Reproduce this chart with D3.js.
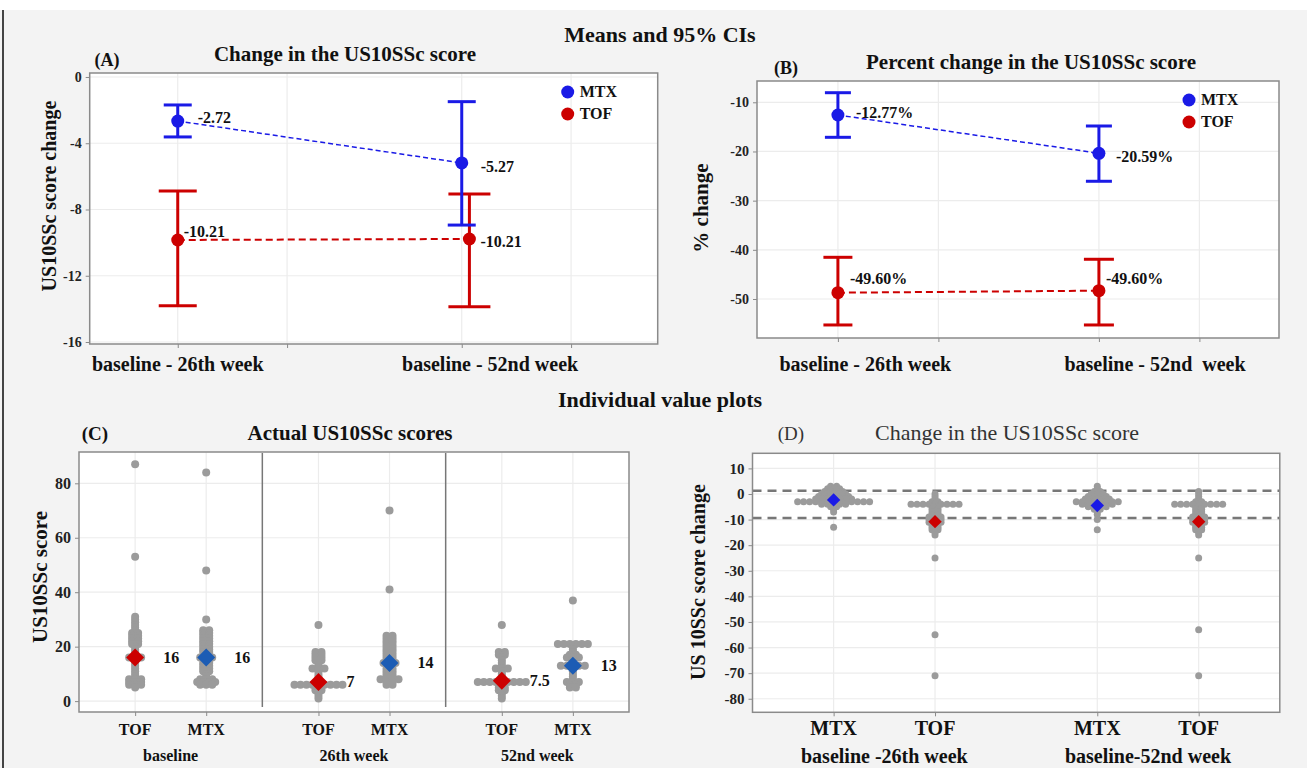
<!DOCTYPE html>
<html>
<head>
<meta charset="utf-8">
<script src="https://cdn.jsdelivr.net/npm/d3@7"></script>
<style>
  body { margin: 0; background: #fff; }
  text { font-family: "Liberation Serif", "Times New Roman", serif; fill: #111; white-space: pre; }
</style>
</head>
<body>
<svg id="fig" width="1307" height="768"></svg>
<script>
// ---------- data: (A) change in score, means + 95% CI ----------
const ciPeriods = ["baseline - 26th week", "baseline - 52nd week"];
const ciPeriodsB = ["baseline - 26th week", "baseline - 52nd  week"];
const ciPos = [1, 2];
const ciPosTofA = [1, 2.027];
const ciGrid = [1, 1.385, 2, 2.385];

const changeMtxMean = [-2.66, -5.19];
const changeMtxLow = [-3.62, -8.94];
const changeMtxHigh = [-1.69, -1.49];
const changeMtxText = ["-2.72", "-5.27"];
const changeTofMean = [-9.84, -9.78];
const changeTofLow = [-13.81, -13.87];
const changeTofHigh = [-6.88, -7.07];
const changeTofText = ["-10.21", "-10.21"];
const changeTicks = [0, -4, -8, -12, -16];

// ---------- data: (B) percent change ----------
const pctMtxMean = [-12.58, -20.37];
const pctMtxLow = [-17.12, -26.06];
const pctMtxHigh = [-8.05, -14.82];
const pctMtxText = ["-12.77%", "-20.59%"];
const pctTofMean = [-48.72, -48.31];
const pctTofLow = [-55.28, -55.28];
const pctTofHigh = [-41.52, -41.92];
const pctTofText = ["-49.60%", "-49.60%"];
const pctTicks = [-10, -20, -30, -40, -50];

// ---------- data: (C) actual scores ----------
const scoreGroups = ["baseline", "26th week", "52nd week"];
const scoreArms = ["TOF", "MTX"];
const tofBaseline = [87, 53, 31, 30, 29, 28, 27, 26, 25, 25, 24, 24, 23, 23, 22, 22, 21, 21, 20, 19, 18, 17,
  16, 16, 16, 15, 14, 13, 12, 11, 10, 9, 8, 8, 8, 7, 7, 7, 6, 6, 6, 5];
const mtxBaseline = [84, 48, 30, 26, 26, 25, 25, 24, 24, 23, 23, 22, 22, 21, 21, 20, 20, 19, 19, 18, 18, 17,
  16, 16, 16, 15, 14, 14, 13, 13, 12, 12, 11, 11, 10, 9, 8, 8, 8, 7, 7, 7, 7, 6, 6, 6];
const tofWeek26 = [28, 18, 18, 17, 17, 16, 16, 15, 15, 14, 13, 12, 12, 12, 11, 10, 9, 8, 7,
  6, 6, 6, 6, 6, 6, 6, 6, 6, 5, 5, 4, 4, 3, 2, 1];
const mtxWeek26 = [70, 41, 24, 24, 23, 23, 22, 22, 21, 21, 20, 20, 19, 19, 18, 18, 17, 17, 16, 16, 15, 15,
  14, 14, 14, 13, 12, 12, 11, 11, 10, 10, 9, 9, 8, 8, 8, 8, 7, 7, 6, 6];
const tofWeek52 = [28, 18, 18, 17, 17, 16, 15, 14, 13, 12, 12, 12, 11, 10, 9, 8,
  7, 7, 7, 7, 7, 7, 7, 7, 7, 6, 5, 5, 4, 4, 3, 2, 1];
const mtxWeek52 = [37, 21, 21, 21, 21, 21, 21, 20, 19, 18, 17, 17, 16, 16, 16, 15, 14,
  13, 13, 13, 13, 13, 12, 11, 10, 9, 8, 7, 7, 7, 6, 6, 5, 5];
const scoreMedians = [16, 16, 7, 14, 7.5, 13];
const scoreMedianText = ["16", "16", "7", "14", "7.5", "13"];
const scoreTicks = [0, 20, 40, 60, 80];

// ---------- data: (D) change, individual values ----------
const diffGroups = ["baseline -26th week", "baseline-52nd week"];
const diffArms = ["MTX", "TOF"];
const mtxDiff26 = [3, 3, 2, 2, 2, 1, 1, 1, 1, 0, 0, 0, 0, 0, -1, -1, -1, -1, -1, -1,
  -2, -2, -2, -2, -2, -2, -2, -3, -3, -3, -3, -3, -3, -3, -3, -3, -3, -3, -3, -3,
  -4, -4, -4, -4, -4, -5, -5, -6, -7, -13];
const tofDiff26 = [0, -1, -2, -3, -3, -4, -4, -4, -4, -4, -4, -4, -4, -4, -5, -5, -6, -6, -7, -7,
  -8, -8, -9, -9, -9, -10, -10, -10, -11, -11, -11, -12, -12, -13, -13, -14, -14, -15, -16, -25, -55, -71];
const mtxDiff52 = [3, 2, 1, 1, 0, 0, 0, -1, -1, -1, -1, -2, -2, -2, -2, -2,
  -3, -3, -3, -3, -3, -3, -3, -3, -4, -4, -4, -4, -4, -4, -5, -5, -5, -5, -6, -6, -7, -8, -10, -14];
const tofDiff52 = [1, 0, -1, -2, -3, -3, -4, -4, -4, -4, -4, -4, -4, -4, -4, -5, -5, -6, -6, -7, -7,
  -8, -8, -9, -9, -9, -10, -10, -10, -11, -11, -11, -12, -12, -13, -13, -14, -14, -15, -16, -25, -53, -71];
const diffMeans = [-2.3, -10.8, -4.5, -10.8];
const diffRefLines = [1.3, -9.4];
const diffTicks = [10, 0, -10, -20, -30, -40, -50, -60, -70, -80];

// ---------- styling ----------
const BLUE = "#1a1ae6", RED = "#cc0000", DOT = "#9b9b9b", GRID = "#ececec", FRAME = "#8a8a8a";
const SERIF = "'Liberation Serif', 'Times New Roman', serif";
const svg = d3.select("#fig");

svg.append("rect").attr("width", 1307).attr("height", 768).attr("fill", "#f3f3f3");
svg.append("rect").attr("width", 1307).attr("height", 10).attr("fill", "#fff");
svg.append("line").attr("x1", 3).attr("x2", 3).attr("y1", 10).attr("y2", 768)
  .attr("stroke", "#444").attr("stroke-width", 2);

function label(g, x, y, str, size, bold, anchor) {
  return g.append("text")
    .attr("x", x).attr("y", y)
    .attr("font-size", size)
    .attr("font-weight", bold ? "bold" : "normal")
    .attr("text-anchor", anchor || "middle")
    .style("font-family", SERIF)
    .text(str);
}

function yLabel(g, x, y, str, size) {
  g.append("text")
    .attr("transform", `translate(${x},${y}) rotate(-90)`)
    .attr("font-size", size).attr("font-weight", "bold")
    .attr("text-anchor", "middle")
    .style("font-family", SERIF)
    .text(str);
}

function styleAxis(a, size) {
  a.select(".domain").remove();
  a.selectAll("line").attr("stroke", FRAME);
  a.selectAll("text").attr("font-size", size).attr("font-weight", "bold")
    .style("font-family", SERIF).style("fill", "#222");
}

label(svg, 660, 42, "Means and 95% CIs", 22, true);
label(svg, 660, 407, "Individual value plots", 22, true);

// ---------- means + CI panels ----------
function ciPanel(p) {
  const g = svg.append("g");
  const x = d3.scaleLinear().domain([0.69, 2.69]).range([p.left, p.right]);
  const y = d3.scaleLinear().domain(p.yDomain).range([p.bottom, p.top]);

  g.append("rect").attr("x", p.left).attr("y", p.top)
    .attr("width", p.right - p.left).attr("height", p.bottom - p.top).attr("fill", "#fff");

  g.selectAll("line.hg").data(p.yTicks).join("line").attr("class", "hg")
    .attr("x1", p.left).attr("x2", p.right)
    .attr("y1", d => y(d)).attr("y2", d => y(d))
    .attr("stroke", GRID).attr("stroke-width", 1.2);
  g.selectAll("line.vg").data(ciGrid).join("line").attr("class", "vg")
    .attr("x1", d => x(d)).attr("x2", d => x(d))
    .attr("y1", p.top).attr("y2", p.bottom)
    .attr("stroke", GRID).attr("stroke-width", 1.2);

  const ya = g.append("g").attr("transform", `translate(${p.left},0)`)
    .call(d3.axisLeft(y).tickValues(p.yTicks).tickSize(4).tickPadding(4).tickFormat(d => String(d)));
  styleAxis(ya, 14);
  const xa = g.append("g").attr("transform", `translate(0,${p.bottom})`)
    .call(d3.axisBottom(x).tickValues(ciGrid).tickSize(4).tickFormat(""));
  styleAxis(xa, 14);

  p.periods.forEach((t, i) => label(g, x(p.labelAt[i]), 371, t, 20, true));

  p.series.forEach(s => {
    const pts = s.mean.map((m, i) => ({ x: x(s.pos[i]), m: y(m), lo: y(s.low[i]), hi: y(s.high[i]), t: s.text[i], i: i }));
    g.append("path")
      .attr("d", d3.line().x(d => d.x).y(d => d.m)(pts))
      .attr("fill", "none").attr("stroke", s.colour)
      .attr("stroke-width", s.dashWidth).attr("stroke-dasharray", s.dash);
    pts.forEach(d => {
      g.append("line").attr("x1", d.x).attr("x2", d.x).attr("y1", d.lo).attr("y2", d.hi)
        .attr("stroke", s.colour).attr("stroke-width", 3);
      [d.lo, d.hi].forEach(c => g.append("line")
        .attr("x1", d.x - s.cap[d.i]).attr("x2", d.x + s.cap[d.i]).attr("y1", c).attr("y2", c)
        .attr("stroke", s.colour).attr("stroke-width", 3));
      g.append("circle").attr("cx", d.x).attr("cy", d.m).attr("r", 6.5).attr("fill", s.colour);
      label(g, d.x + s.dx[d.i], d.m + s.dy[d.i] + 5, d.t, 16, true, "start");
    });
  });

  // legend
  p.series.slice().reverse().forEach((s, i) => {
    const ly = p.top + 19 + i * 22;
    g.append("circle").attr("cx", p.right - 90).attr("cy", ly).attr("r", 6.5).attr("fill", s.colour);
    label(g, p.right - 78, ly + 5, s.name, 16, true, "start");
  });

  g.append("rect").attr("x", p.left).attr("y", p.top)
    .attr("width", p.right - p.left).attr("height", p.bottom - p.top)
    .attr("fill", "none").attr("stroke", FRAME).attr("stroke-width", 1.5);

  label(svg, p.tagX, p.titleY + 5, p.tag, 18, true);
  label(svg, p.titleX, p.titleY, p.title, 21, true);
  yLabel(svg, p.yLabelX, p.yLabelY, p.yTitle, p.yTitleSize);
}

ciPanel({
  left: 89.7, right: 657.7, top: 73, bottom: 344,
  yDomain: [-16.12, 0.24], yTicks: changeTicks,
  periods: ciPeriods, labelAt: [1.0, 2.1],
  tag: "(A)", tagX: 107, title: "Change in the US10SSc score", titleX: 345, titleY: 61,
  yTitle: "US10SSc score change", yLabelX: 56, yLabelY: 196, yTitleSize: 20,
  series: [
    { name: "TOF", colour: RED, pos: ciPosTofA, mean: changeTofMean, low: changeTofLow, high: changeTofHigh,
      text: changeTofText, cap: [19, 21], dx: [6, 11], dy: [-8, 3], dash: "7,4", dashWidth: 2 },
    { name: "MTX", colour: BLUE, pos: ciPos, mean: changeMtxMean, low: changeMtxLow, high: changeMtxHigh,
      text: changeMtxText, cap: [14, 14], dx: [20, 19], dy: [-3, 4], dash: "5,3", dashWidth: 1.5 }
  ]
});

ciPanel({
  left: 757, right: 1279, top: 81, bottom: 338,
  yDomain: [-57.93, -5.67], yTicks: pctTicks,
  periods: ciPeriodsB, labelAt: [1.105, 2.215],
  tag: "(B)", tagX: 786, title: "Percent change in the US10SSc score", titleX: 1031, titleY: 69,
  yTitle: "% change", yLabelX: 708, yLabelY: 208, yTitleSize: 21,
  series: [
    { name: "TOF", colour: RED, pos: ciPos, mean: pctTofMean, low: pctTofLow, high: pctTofHigh,
      text: pctTofText, cap: [14.5, 15], dx: [12, 7], dy: [-14, -12], dash: "7,4", dashWidth: 2 },
    { name: "MTX", colour: BLUE, pos: ciPos, mean: pctMtxMean, low: pctMtxLow, high: pctMtxHigh,
      text: pctMtxText, cap: [13, 13], dx: [18, 17], dy: [-2, 4], dash: "5,3", dashWidth: 1.5 }
  ]
});

// ---------- individual value panels ----------
function spread(values, step) {
  const counts = d3.rollup(values, v => v.length, d => d);
  const out = [];
  counts.forEach((n, v) => {
    for (let i = 0; i < n; i++) out.push({ v: v, off: (i - (n - 1) / 2) * step });
  });
  return out;
}

function dotPanel(p) {
  const g = svg.append("g");
  const outer = d3.scaleBand().domain(p.groups).range([p.left, p.right]);
  const inner = d3.scalePoint().domain(p.arms).range([0, outer.bandwidth()]).padding(p.pad);
  const y = d3.scaleLinear().domain(p.yDomain).range([p.bottom, p.top]);
  const cx = s => outer(s.group) + inner(s.arm);

  g.append("rect").attr("x", p.left).attr("y", p.top)
    .attr("width", p.right - p.left).attr("height", p.bottom - p.top).attr("fill", "#fff");

  g.selectAll("line.hg").data(p.yTicks).join("line").attr("class", "hg")
    .attr("x1", p.left).attr("x2", p.right)
    .attr("y1", d => y(d)).attr("y2", d => y(d))
    .attr("stroke", GRID).attr("stroke-width", 1.2);
  g.selectAll("line.vg").data(p.series).join("line").attr("class", "vg")
    .attr("x1", d => cx(d)).attr("x2", d => cx(d))
    .attr("y1", p.top).attr("y2", p.bottom)
    .attr("stroke", GRID).attr("stroke-width", 1.2);

  (p.refLines || []).forEach(r => g.append("line")
    .attr("x1", p.left).attr("x2", p.right).attr("y1", y(r)).attr("y2", y(r))
    .attr("stroke", "#777").attr("stroke-width", 2.5).attr("stroke-dasharray", "9,6"));

  p.series.forEach(s => {
    g.selectAll(null).data(spread(s.values, 6)).join("circle")
      .attr("cx", d => cx(s) + d.off).attr("cy", d => y(d.v))
      .attr("r", p.r).attr("fill", DOT);
    g.append("path")
      .attr("d", d3.symbol(d3.symbolSquare, p.diamond)())
      .attr("transform", `translate(${cx(s)},${y(s.centre)}) rotate(45)`)
      .attr("fill", s.colour);
    if (s.centreText) label(g, cx(s) + 28, y(s.centre) + 5, s.centreText, 16, true, "start");
  });

  // facet separators
  if (p.separators) {
    p.groups.slice(1).forEach(gr => g.append("line")
      .attr("x1", outer(gr)).attr("x2", outer(gr)).attr("y1", p.top + 1).attr("y2", p.bottom - 5)
      .attr("stroke", "#777").attr("stroke-width", 1.5));
  }

  const ya = g.append("g").attr("transform", `translate(${p.left},0)`)
    .call(d3.axisLeft(y).tickValues(p.yTicks).tickSize(4).tickPadding(4).tickFormat(d => String(d)));
  styleAxis(ya, p.tickSize);
  const xa = g.append("g").attr("transform", `translate(0,${p.bottom})`)
    .call(d3.axisBottom(d3.scaleIdentity()).tickValues(p.series.map(cx)).tickSize(4).tickFormat(""));
  styleAxis(xa, 14);

  p.series.forEach(s => label(g, cx(s), 735, s.arm, p.armSize, true));
  p.groups.forEach(gr => label(g, outer(gr) + outer.bandwidth() / 2, p.groupY, gr, p.groupSize, true));

  g.append("rect").attr("x", p.left).attr("y", p.top)
    .attr("width", p.right - p.left).attr("height", p.bottom - p.top)
    .attr("fill", "none").attr("stroke", FRAME).attr("stroke-width", 1.5);

  label(svg, p.tagX, 440, p.tag, 19, p.boldTitle).style("fill", p.boldTitle ? "#111" : "#333");
  label(svg, p.titleX, 440, p.title, p.titleSize, p.boldTitle).style("fill", p.boldTitle ? "#111" : "#333");
  yLabel(svg, p.yLabelX, p.yLabelY, p.yTitle, p.yTitleSize);
}

dotPanel({
  left: 79, right: 629, top: 452, bottom: 712,
  groups: scoreGroups, arms: scoreArms, pad: 0.79,
  yDomain: [-4, 91.5], yTicks: scoreTicks, r: 4, diamond: 162, separators: true,
  tickSize: 16, armSize: 16, groupSize: 16, groupY: 761,
  tag: "(C)", tagX: 95, title: "Actual US10SSc scores", titleX: 350, titleSize: 21, boldTitle: true,
  yTitle: "US10SSc score", yLabelX: 47, yLabelY: 577, yTitleSize: 21,
  series: [
    { group: "baseline", arm: "TOF", values: tofBaseline, centre: scoreMedians[0], centreText: scoreMedianText[0], colour: RED },
    { group: "baseline", arm: "MTX", values: mtxBaseline, centre: scoreMedians[1], centreText: scoreMedianText[1], colour: "#1c5cb4" },
    { group: "26th week", arm: "TOF", values: tofWeek26, centre: scoreMedians[2], centreText: scoreMedianText[2], colour: RED },
    { group: "26th week", arm: "MTX", values: mtxWeek26, centre: scoreMedians[3], centreText: scoreMedianText[3], colour: "#1c5cb4" },
    { group: "52nd week", arm: "TOF", values: tofWeek52, centre: scoreMedians[4], centreText: scoreMedianText[4], colour: RED },
    { group: "52nd week", arm: "MTX", values: mtxWeek52, centre: scoreMedians[5], centreText: scoreMedianText[5], colour: "#1c5cb4" }
  ]
});

dotPanel({
  left: 752.5, right: 1279.8, top: 453.3, bottom: 712.3,
  groups: diffGroups, arms: diffArms, pad: 0.8,
  yDomain: [-85.3, 15.9], yTicks: diffTicks, r: 3.5, diamond: 90, separators: false,
  refLines: diffRefLines,
  tickSize: 15, armSize: 20, groupSize: 20, groupY: 763,
  tag: "(D)", tagX: 791, title: "Change in the US10SSc score", titleX: 1007, titleSize: 22, boldTitle: false,
  yTitle: "US 10SSc score change", yLabelX: 705, yLabelY: 582, yTitleSize: 20,
  series: [
    { group: diffGroups[0], arm: "MTX", values: mtxDiff26, centre: diffMeans[0], colour: BLUE },
    { group: diffGroups[0], arm: "TOF", values: tofDiff26, centre: diffMeans[1], colour: RED },
    { group: diffGroups[1], arm: "MTX", values: mtxDiff52, centre: diffMeans[2], colour: BLUE },
    { group: diffGroups[1], arm: "TOF", values: tofDiff52, centre: diffMeans[3], colour: RED }
  ]
});
</script>
</body>
</html>
